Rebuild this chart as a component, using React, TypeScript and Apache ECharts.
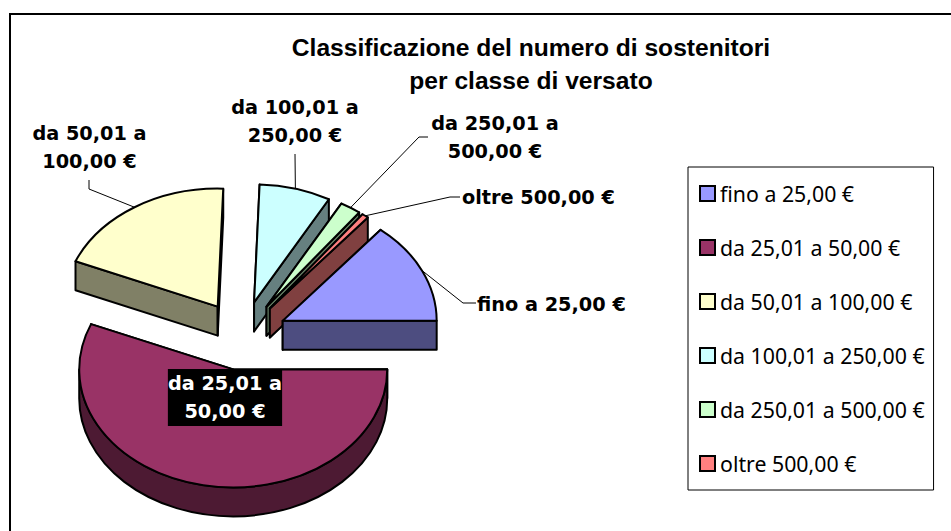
import React, { useEffect, useRef } from "react";
import * as echarts from "echarts";

const categories = [
  "fino a 25,00 €",
  "da 25,01 a 50,00 €",
  "da 50,01 a 100,00 €",
  "da 100,01 a 250,00 €",
  "da 250,01 a 500,00 €",
  "oltre 500,00 €",
];
const shares = [14.0, 56.3, 19.3, 7.5, 2.2, 0.7];
const sliceLabels = [
  "fino a 25,00 €",
  "da 25,01 a\n50,00 €",
  "da 50,01 a\n100,00 €",
  "da 100,01 a\n250,00 €",
  "da 250,01 a\n500,00 €",
  "oltre 500,00 €",
];
const titleText = "Classificazione del numero di sostenitori\nper classe di versato";

const topColors = ["#9999FF", "#993366", "#FFFFCC", "#CCFFFF", "#CCFFCC", "#FF8080"];
const wallColors = ["#4D4D80", "#4D1A33", "#808066", "#668080", "#668066", "#804040"];

// Layout of the drawing (pie projection and label placement)
const PIE = { cx: 242, cy: 335.6, rx: 154, ry: 118, depth: 29, explode: 45, start: 50.5 };
const labelLayout: { x: number; y: number; align: string; elbow: number[][] | null }[] = [
  { x: 477, y: 304, align: "left", elbow: [[463, 303], [476, 303]] },
  { x: 225, y: 397.5, align: "center", elbow: null },
  { x: 89.5, y: 147.5, align: "center", elbow: [[89, 189], [89, 180]] },
  { x: 295, y: 121.5, align: "center", elbow: [[295, 154]] },
  { x: 495, y: 137.5, align: "center", elbow: [[419, 137], [428, 137]] },
  { x: 462, y: 197, align: "left", elbow: [[450, 197], [460, 197]] },
];

const total = shares.reduce((a, b) => a + b, 0);
const rad = (d: number) => (d * Math.PI) / 180;

// Slices run clockwise from the start angle
const slices = (() => {
  let a = PIE.start;
  return shares.map((v) => {
    const sweep = (v / total) * 360;
    const from = a;
    const to = a - sweep;
    a = to;
    const mid = (from + to) / 2;
    return {
      from,
      to,
      mid,
      ox: PIE.cx + PIE.explode * Math.cos(rad(mid)),
      oy: PIE.cy - ((PIE.explode * PIE.ry) / PIE.rx) * Math.sin(rad(mid)),
    };
  });
})();

const rim = (s: { ox: number; oy: number }, t: number, dz = 0) => [
  s.ox + PIE.rx * Math.cos(rad(t)),
  s.oy - PIE.ry * Math.sin(rad(t)) + dz,
];

const arcTo = (s: any, from: number, to: number, dz = 0) => {
  const p = rim(s, to, dz);
  const large = Math.abs(from - to) > 180 ? 1 : 0;
  const sweep = to < from ? 1 : 0;
  return `A${PIE.rx} ${PIE.ry} 0 ${large} ${sweep} ${p[0]} ${p[1]}`;
};

const topPath = (s: any) => {
  const a = rim(s, s.from);
  return `M${s.ox} ${s.oy}L${a[0]} ${a[1]}${arcTo(s, s.from, s.to)}Z`;
};

const cutPath = (s: any, t: number) => {
  const p = rim(s, t);
  return `M${s.ox} ${s.oy}L${p[0]} ${p[1]}L${p[0]} ${p[1] + PIE.depth}L${s.ox} ${s.oy + PIE.depth}Z`;
};

// Outer wall: the part of the slice's rim on the front half of the ellipse
const rimWall = (s: any) => {
  const hi = Math.min(s.from, 0);
  const lo = Math.max(s.to, -180);
  if (lo >= hi) return null;
  const a = rim(s, hi);
  const b = rim(s, lo, PIE.depth);
  return `M${a[0]} ${a[1]}${arcTo(s, hi, lo)}L${b[0]} ${b[1]}${arcTo(
    { ...s, oy: s.oy + PIE.depth },
    lo,
    hi
  )}Z`;
};

const STROKE = { stroke: "#000", lineWidth: 2, lineJoin: "round" };

const pathEl = (d: string, fill: string) => ({
  type: "path",
  shape: { pathData: d },
  style: { fill, ...STROKE },
});

const renderSlice = (i: number) => () => {
  const s = slices[i];
  const children: any[] = [];
  children.push(pathEl(cutPath(s, s.from), wallColors[i]));
  children.push(pathEl(cutPath(s, s.to), wallColors[i]));
  const w = rimWall(s);
  if (w) children.push(pathEl(w, wallColors[i]));
  children.push(pathEl(topPath(s), topColors[i]));

  const l = labelLayout[i];
  if (l.elbow) {
    children.push({
      type: "polyline",
      shape: { points: [rim(s, s.mid), ...l.elbow] },
      style: { fill: "none", stroke: "#000", lineWidth: 1 },
    });
  }
  const inside = !l.elbow;
  children.push({
    type: "text",
    x: l.x,
    y: l.y,
    style: {
      text: sliceLabels[i],
      fontFamily: "DejaVu Sans",
      fontWeight: "bold",
      fontSize: 19.3,
      lineHeight: 27.5,
      align: l.align,
      verticalAlign: "middle",
      fill: inside ? "#fff" : "#000",
      backgroundColor: inside ? "#000" : undefined,
      padding: inside ? [1, 0, 1, 0] : 0,
    },
  });
  return { type: "group", children };
};

// Back slices are painted first
const paintRank = slices
  .map((s, i) => ({ i, k: -Math.sin(rad(s.mid)) }))
  .sort((a, b) => a.k - b.k)
  .reduce((acc: Record<number, number>, o, r) => {
    acc[o.i] = r + 1;
    return acc;
  }, {});

export default function App() {
  const ref = useRef<HTMLDivElement>(null);
  useEffect(() => {
    document.body.style.margin = "0";
    const chart = echarts.init(ref.current!, null, { renderer: "svg" });
    chart.setOption({
      animation: false,
      backgroundColor: "#fff",
      title: {
        text: titleText,
        left: 531,
        top: 31,
        textAlign: "center",
        padding: 0,
        textStyle: {
          fontFamily: "Liberation Sans",
          fontWeight: "bold",
          fontSize: 24.6,
          lineHeight: 33,
          color: "#000",
          align: "center",
        },
      },
      legend: {
        data: categories,
        orient: "vertical",
        left: 688,
        top: 167,
        padding: [12, 9, 12, 11],
        itemWidth: 15,
        itemHeight: 15,
        itemGap: 25,
        borderColor: "#000",
        borderWidth: 1,
        icon: "rect",
        itemStyle: { borderColor: "#000", borderWidth: 2 },
        selectedMode: false,
        textStyle: {
          fontFamily: "Noto Sans",
          fontSize: 21.3,
          lineHeight: 29,
          color: "#000",
        },
      },
      graphic: [
        {
          type: "polyline",
          z: -1,
          shape: { points: [[10, 531], [10, 14], [951, 14]] },
          style: { fill: "none", stroke: "#000", lineWidth: 2 },
        },
      ],
      series: categories.map((name, i) => ({
        type: "custom",
        name,
        coordinateSystem: "none",
        z: paintRank[i] + 2,
        itemStyle: { color: topColors[i] },
        data: [shares[i]],
        renderItem: renderSlice(i),
      })),
    });
    return () => chart.dispose();
  }, []);
  return <div ref={ref} style={{ width: 951, height: 531 }} />;
}
